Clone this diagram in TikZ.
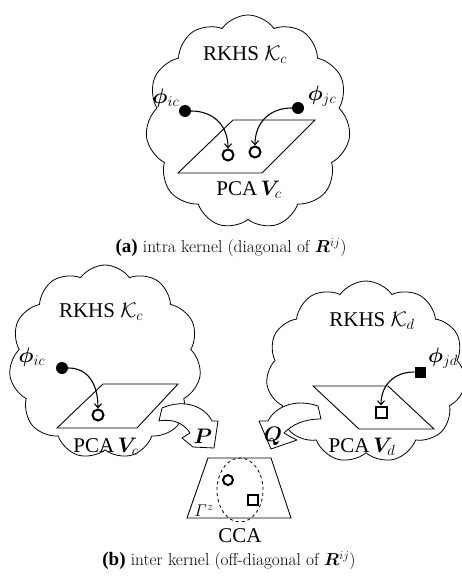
\RequirePackage{fix-cm}
\documentclass[tikz,border=0pt]{standalone}
\usepackage{fontspec}
\usepackage{amsmath,bm}
\usetikzlibrary{shapes.symbols,arrows.meta}
\newfontfamily\tms{Liberation Serif}
\begin{document}
\begin{tikzpicture}[x=1pt,y=-1pt,
  cloudbox/.style={cloud, draw, line width=0.8pt, cloud puffs=11, cloud puff arc=110, aspect=1, inner sep=0pt},
  lbl/.style={font=\tms\fontsize{21}{23}\selectfont, inner sep=0pt},
  captext/.style={font=\fontsize{17.3}{20}\selectfont, inner sep=0pt},
  plane/.style={draw, line width=0.9pt},
  dot/.style={circle, fill, minimum size=12pt, inner sep=0pt},
  sqdot/.style={rectangle, fill, minimum size=11pt, inner sep=0pt},
  ring/.style={circle, draw, line width=2pt, minimum size=11pt, inner sep=0pt},
  sqring/.style={rectangle, draw, line width=2pt, minimum size=11pt, inner sep=0pt},
  link/.style={line width=1.1pt, -{Straight Barb[length=4pt,width=7pt]}},
  blockarrow/.style={draw, fill=white, line width=0.8pt, line join=round}]
\useasboundingbox (0,0) rectangle (461,578);

% ---------- (a) ----------
\node[cloudbox, minimum width=205pt, minimum height=214pt] (K1) at (248,122) {};
\node[lbl] (t1) at (245,55) {RKHS $\mathcal{K}_c$};
\path[plane] (233,120) -- (315,120) -- (262,173) -- (178,173) -- cycle;
\node[lbl] (pa) at (166,98) {$\bm{\phi}_{ic}$};
\node[lbl] (pb) at (322,96) {$\bm{\phi}_{jc}$};
\node[dot] (d1) at (185,111) {};
\node[dot] (d2) at (298,108) {};
\node[ring] (c1) at (228,155) {};
\node[ring] (c2) at (255,152) {};
\draw[link] (d1) to[out=0,in=90,looseness=1.1] (c1);
\draw[link] (d2) to[out=180,in=90,looseness=1.1] (c2);
\node[lbl] (v1) at (249,190) {PCA\,$\bm{V}_c$};
\node[captext] (capa) at (231,248) {{\tms\bfseries\fontsize{19}{20}\selectfont(a)} intra kernel (diagonal of $\bm{R}^{ij}$)};

% ---------- (b) clouds ----------
\node[cloudbox, minimum width=192pt, minimum height=194pt] (K2) at (105,362) {};
\node[cloudbox, minimum width=200pt, minimum height=182pt] (K3) at (366,372) {};

% left cloud content
\node[lbl] (t2) at (101,312) {RKHS $\mathcal{K}_c$};
\path[plane] (103,384) -- (178,384) -- (137,428) -- (57,428) -- cycle;
\node[lbl] (pc) at (32,357) {$\bm{\phi}_{ic}$};
\node[dot] (d3) at (62,368) {};
\node[ring] (c3) at (98,415) {};
\draw[link] (d3) to[out=0,in=90,looseness=1.1] (c3);
\node[lbl] (v2) at (106,447) {PCA\,$\bm{V}_c$};

% right cloud content
\node[lbl] (t3) at (372,321) {RKHS $\mathcal{K}_d$};
\path[plane] (313,386) -- (388,386) -- (434,429) -- (359,429) -- cycle;
\node[lbl] (pd) at (443,358) {$\bm{\phi}_{jd}$};
\node[sqdot] (d4) at (420,372) {};
\node[sqring] (c4) at (381,412) {};
\draw[link] (d4) to[out=180,in=90,looseness=1.1] (c4);
\node[lbl] (v3) at (362,447) {PCA\,$\bm{V}_d$};

% ---------- block arrows P and Q ----------
\path[blockarrow] (162,408) .. controls (185,398) and (205,407) .. (212,421)
  -- (218,421) -- (214,448) -- (193,447) -- (182,438) -- (190,433)
  .. controls (185,425) and (175,418) .. (159,421) -- cycle;
\node[lbl] (P) at (203,436) {$\bm{P}$};
\path[blockarrow] (318,406) .. controls (295,398) and (275,407) .. (268,421)
  -- (259,421) -- (271,449) -- (297,440) -- (289,436) -- (284,433)
  .. controls (292,425) and (303,419) .. (321,419) -- cycle;
\node[lbl] (Q) at (273,436) {$\bm{Q}$};

% ---------- CCA ----------
\path[plane] (208,458) -- (271,458) -- (291,518) -- (187,518) -- cycle;
\draw[dashed, line width=0.8pt] (240,490) ellipse [x radius=23pt, y radius=32pt];
\node[ring, minimum size=10pt] (c5) at (228,480) {};
\node[sqring, minimum size=10pt] (c6) at (253,500) {};
\node[font=\fontsize{17}{18}\selectfont, inner sep=0pt] (g) at (204,511) {$\varGamma^{z}$};
\node[lbl] (cca) at (240,536) {CCA};
\node[captext] (capb) at (229,561) {{\tms\bfseries\fontsize{19}{20}\selectfont(b)} inter kernel (off-diagonal of $\bm{R}^{ij}$)};
\end{tikzpicture}
\end{document}
